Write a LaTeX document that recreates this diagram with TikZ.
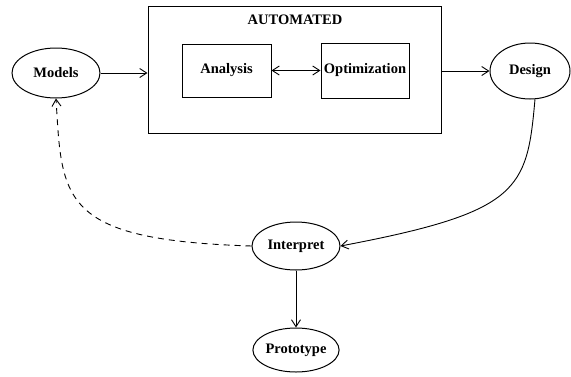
\documentclass[tikz,border=0pt]{standalone}
\usepackage{fontspec}
\setmainfont{Liberation Serif}
\usetikzlibrary{shapes.geometric,arrows.meta}
\begin{document}
\begin{tikzpicture}[x=1pt,y=-1pt,
  lbl/.style={font=\fontsize{14.5}{17}\selectfont\bfseries},
  oval/.style={ellipse,draw,line width=1pt,inner sep=0pt,lbl},
  boxnode/.style={rectangle,draw,line width=1pt,inner sep=0pt,lbl},
  conn/.style={line width=0.9pt,-{Straight Barb[length=7pt,width=9pt,line width=0.9pt]}},
  conn2/.style={line width=0.9pt,{Straight Barb[length=7pt,width=9pt,line width=0.9pt]}-{Straight Barb[length=7pt,width=9pt,line width=0.9pt]}}
]
\useasboundingbox (0,0) rectangle (571,376);
\node[boxnode,minimum width=293pt,minimum height=127pt] (auto) at (294.5,69.5) {};
\node[lbl] (autolbl) at (295,20) {AUTOMATED};
\node[boxnode,minimum width=89pt,minimum height=53pt] (analysis) at (226.5,70.5) {Analysis};
\node[boxnode,minimum width=88pt,minimum height=55pt] (optim) at (365,70.5) {Optimization};
\node[oval,minimum width=88pt,minimum height=50pt] (models) at (56,73) {Models};
\node[oval,minimum width=80pt,minimum height=56pt] (design) at (530,71) {Design};
\node[oval,minimum width=88pt,minimum height=48pt] (interp) at (296,246) {Interpret};
\node[oval,minimum width=86pt,minimum height=44pt] (proto) at (296,350) {Prototype};
\draw[conn] (models.east) -- (models.east -| auto.west);
\draw[conn2] (analysis.east) -- (optim.west);
\draw[conn] (design.west -| auto.east) -- (design.west);
\draw[conn] (design.-80) .. controls (527,190) and (520,212) .. (interp.east);
\draw[conn,dashed,dash pattern=on 6pt off 5pt] (interp.west) .. controls (60,240) and (62,200) .. (models.south);
\draw[conn] (interp.south) -- (proto.north);
\end{tikzpicture}
\end{document}
